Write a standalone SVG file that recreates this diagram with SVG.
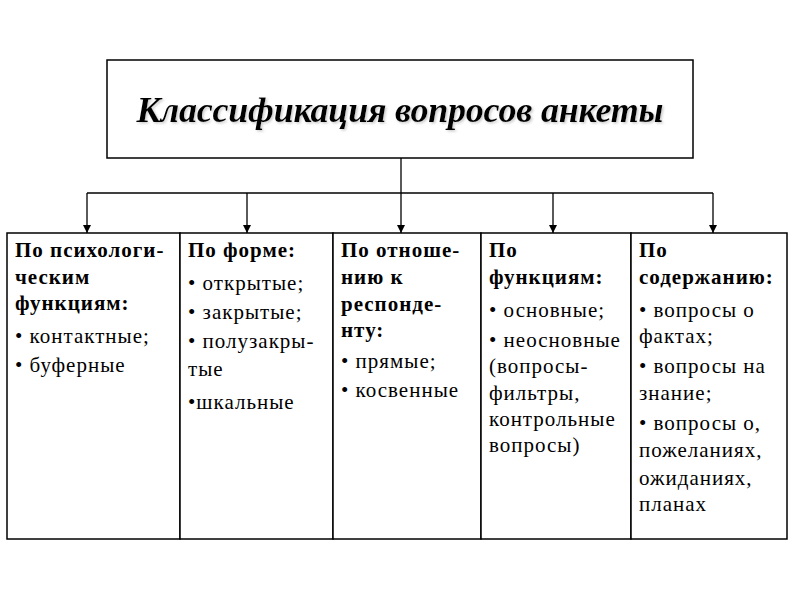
<svg xmlns="http://www.w3.org/2000/svg" width="800" height="600" viewBox="0 0 800 600">
<style>
.box{fill:#fff;stroke:#000;stroke-width:1.5}
.title{font-family:"Liberation Serif","Times New Roman",serif;font-size:36px;font-weight:bold;font-style:italic;fill:#000}
.h{font-family:"Liberation Serif","Times New Roman",serif;font-size:21px;font-weight:bold;letter-spacing:1px;fill:#000}
.t{font-family:"Liberation Serif","Times New Roman",serif;font-size:21px;letter-spacing:1px;fill:#000}
.conn{fill:none;stroke:#000;stroke-width:1.3}
</style>
<defs>
<marker id="arr" viewBox="0 0 8 8" refX="8" refY="4" markerWidth="8" markerHeight="8" markerUnits="userSpaceOnUse" orient="auto">
<path d="M0,0 L8,4 L0,8 z" fill="#000"/>
</marker>
<filter id="sh" x="-5%" y="-20%" width="110%" height="140%">
<feDropShadow dx="1.5" dy="1.5" stdDeviation="0.8" flood-color="#aaa" flood-opacity="0.6"/>
</filter>
</defs>
<rect width="800" height="600" fill="#fff"/>
<g id="connectors">
<line class="conn" x1="401" y1="158" x2="401" y2="233" marker-end="url(#arr)"/>
<line class="conn" x1="87" y1="193" x2="713" y2="193"/>
<line class="conn" x1="87" y1="193" x2="87" y2="233" marker-end="url(#arr)"/>
<line class="conn" x1="247" y1="193" x2="247" y2="233" marker-end="url(#arr)"/>
<line class="conn" x1="553" y1="193" x2="553" y2="233" marker-end="url(#arr)"/>
<line class="conn" x1="713" y1="193" x2="713" y2="233" marker-end="url(#arr)"/>
</g>
<g id="title">
<rect class="box" x="107" y="60" width="586" height="98"/>
<text class="title" x="400" y="122" text-anchor="middle" textLength="527" filter="url(#sh)">Классификация вопросов анкеты</text>
</g>
<g id="col1">
<rect class="box" x="7" y="233" width="173" height="306"/>
<text class="h" x="15" y="257">По психологи-</text>
<text class="h" x="15" y="284">ческим</text>
<text class="h" x="15" y="310">функциям:</text>
<text class="t" x="15" y="343">• контактные;</text>
<text class="t" x="15" y="372">• буферные</text>
</g>
<g id="col2">
<rect class="box" x="180" y="233" width="153" height="306"/>
<text class="h" x="188" y="257">По форме:</text>
<text class="t" x="188" y="290">• открытые;</text>
<text class="t" x="188" y="319">• закрытые;</text>
<text class="t" x="188" y="348">• полузакры-</text>
<text class="t" x="188" y="376">тые</text>
<text class="t" x="188" y="409">•шкальные</text>
</g>
<g id="col3">
<rect class="box" x="333" y="233" width="148" height="306"/>
<text class="h" x="341" y="257">По отноше-</text>
<text class="h" x="341" y="284">нию к</text>
<text class="h" x="341" y="311">респонде-</text>
<text class="h" x="341" y="337">нту:</text>
<text class="t" x="341" y="368">• прямые;</text>
<text class="t" x="341" y="397">• косвенные</text>
</g>
<g id="col4">
<rect class="box" x="481" y="233" width="150" height="306"/>
<text class="h" x="489" y="257">По</text>
<text class="h" x="489" y="284">функциям:</text>
<text class="t" x="489" y="317">• основные;</text>
<text class="t" x="489" y="347">• неосновные</text>
<text class="t" x="489" y="373">(вопросы-</text>
<text class="t" x="489" y="400">фильтры,</text>
<text class="t" x="489" y="426">контрольные</text>
<text class="t" x="489" y="452">вопросы)</text>
</g>
<g id="col5">
<rect class="box" x="631" y="233" width="156" height="306"/>
<text class="h" x="639" y="257">По</text>
<text class="h" x="639" y="284">содержанию:</text>
<text class="t" x="639" y="317">• вопросы о</text>
<text class="t" x="639" y="343">фактах;</text>
<text class="t" x="639" y="373">• вопросы на</text>
<text class="t" x="639" y="400">знание;</text>
<text class="t" x="639" y="430">• вопросы о,</text>
<text class="t" x="639" y="457">пожеланиях,</text>
<text class="t" x="639" y="485">ожиданиях,</text>
<text class="t" x="639" y="511">планах</text>
</g>
</svg>
